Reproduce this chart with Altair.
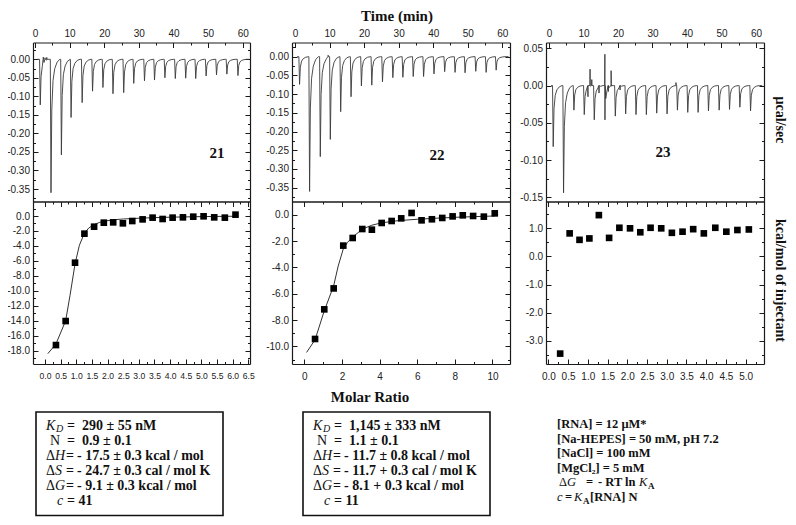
import altair as alt
import pandas as pd

W, H, M = 780, 509, 8
INK = "#1a1a1a"
SANS = "Liberation Sans"
SERIF = "Liberation Serif"
MINUS_FIX = "replace(datum.label, '\u2212', '-')"

# ---------------- raw thermograms: injection time (min) and peak heat rate (ucal/sec) -------------
inj_time_21 = [1.4, 4.5, 7.5, 10.3, 13.5, 16.5, 19.5, 22.4, 25.5, 28.4, 31.5, 34.4, 37.4, 40.4,
               43.4, 46.3, 49.3, 52.3, 55.3, 58.5]
inj_peak_21 = [-0.123, -0.360, -0.258, -0.157, -0.117, -0.086, -0.076, -0.093, -0.090, -0.065,
               -0.058, -0.056, -0.050, -0.052, -0.051, -0.052, -0.045, -0.042, -0.040, -0.044]
noise_time_21 = [2.4, 2.9, 3.4]
noise_val_21 = [0.006, 0.004, 0.005]

inj_time_22 = [1.2, 4.1, 7.2, 10.1, 13.1, 16.1, 19.1, 22.1, 25.2, 28.2, 31.1, 34.1, 37.1, 40.1,
               43.2, 46.2, 49.1, 52.2, 55.2, 58.1]
inj_peak_22 = [-0.074, -0.360, -0.267, -0.221, -0.147, -0.107, -0.078, -0.076, -0.067, -0.056,
               -0.055, -0.053, -0.053, -0.046, -0.040, -0.042, -0.043, -0.039, -0.042, -0.036]
noise_time_22 = [9.6]
noise_val_22 = [0.004]

inj_time_23 = [1.1, 4.1, 7.1, 10.1, 13.0, 16.1, 19.1, 22.1, 25.1, 28.1, 31.1, 34.1, 37.1, 40.1,
               43.1, 46.1, 49.2, 52.2, 55.2, 58.3]
inj_peak_23 = [-0.082, -0.144, -0.033, -0.039, -0.046, -0.046, -0.041, -0.038, -0.039, -0.039,
               -0.037, -0.038, -0.033, -0.036, -0.036, -0.034, -0.033, -0.032, -0.029, -0.034]
noise_time_23 = [11.3, 11.9, 12.4, 14.5, 16.2, 17.2, 18.0, 20.6, 36.8]
noise_val_23 = [-0.015, 0.022, 0.008, -0.010, 0.042, -0.008, 0.020, -0.006, 0.004]

# typical injection peak shape: (minutes after injection, fraction of peak)
PEAK_DT = [-0.08, 0.12, 0.35, 0.7, 1.2, 1.9, 2.7]
PEAK_FRAC = [0.0, 1.0, 0.38, 0.16, 0.07, 0.02, 0.0]

# ---------------- integrated heats (kcal/mol of injectant) vs molar ratio -------------
ratio_21 = [0.35, 0.66, 0.96, 1.26, 1.57, 1.88, 2.18, 2.49, 2.79, 3.12, 3.44, 3.76, 4.08, 4.41,
            4.74, 5.07, 5.41, 5.75, 6.09]
heat_21 = [-17.25, -14.04, -6.24, -2.36, -1.43, -0.89, -0.85, -0.98, -0.67, -0.45, -0.22, -0.40,
           -0.22, -0.18, -0.09, -0.04, -0.18, -0.22, 0.18]
fit_ratio_21 = [0.09, 0.35, 0.66, 0.80, 0.96, 1.10, 1.26, 1.40, 1.57, 1.75, 1.88, 2.20, 2.50,
                3.00, 3.50, 4.00, 5.00, 6.10]
fit_heat_21 = [-18.4, -17.1, -14.0, -10.6, -6.4, -3.9, -2.3, -1.6, -1.15, -0.85, -0.70, -0.50,
               -0.40, -0.30, -0.22, -0.16, -0.08, -0.03]

ratio_22 = [0.57, 1.06, 1.56, 2.07, 2.57, 3.08, 3.59, 4.11, 4.64, 5.15, 5.70, 6.23, 6.78, 7.33,
            7.88, 8.42, 8.97, 9.54, 10.12]
heat_22 = [-9.44, -7.19, -5.60, -2.35, -1.77, -1.09, -1.14, -0.63, -0.48, -0.28, 0.13, -0.43,
           -0.35, -0.25, -0.13, -0.05, -0.10, -0.15, 0.10]
fit_ratio_22 = [0.12, 0.57, 1.06, 1.56, 1.80, 2.07, 2.30, 2.57, 3.08, 3.59, 4.11, 5.00, 6.00,
                7.00, 8.00, 9.00, 10.12]
fit_heat_22 = [-10.46, -9.5, -7.3, -5.4, -3.9, -2.6, -2.1, -1.7, -1.1, -0.8, -0.62, -0.45, -0.35,
               -0.27, -0.20, -0.15, -0.10]

ratio_23 = [0.30, 0.54, 0.79, 1.04, 1.28, 1.54, 1.80, 2.07, 2.33, 2.59, 2.86, 3.13, 3.40, 3.67,
            3.94, 4.23, 4.51, 4.79, 5.08]
heat_23 = [-3.46, 0.82, 0.59, 0.64, 1.47, 0.66, 1.02, 1.00, 0.86, 1.02, 1.00, 0.84, 0.88, 0.97,
           0.82, 1.02, 0.88, 0.94, 0.96]

# ---------------- tick values -------------
time_major = [0, 10, 20, 30, 40, 50, 60]
time_minor = [5, 15, 25, 35, 45, 55]
rate_major = [-0.35, -0.30, -0.25, -0.20, -0.15, -0.10, -0.05, 0.00]
rate_minor = [-0.375, -0.325, -0.275, -0.225, -0.175, -0.125, -0.075, -0.025, 0.025]
rate23_major = [-0.15, -0.10, -0.05, 0.00, 0.05]
rate23_minor = [-0.125, -0.075, -0.025, 0.025]
heat21_major = [-18, -16, -14, -12, -10, -8, -6, -4, -2, 0]
heat21_minor = [-19, -17, -15, -13, -11, -9, -7, -5, -3, -1, 1]
heat22_major = [-10, -8, -6, -4, -2, 0]
heat22_minor = [-11, -9, -7, -5, -3, -1]
heat23_major = [-3, -2, -1, 0, 1]
heat23_minor = [-3.5, -2.5, -1.5, -0.5, 0.5, 1.5]
ratio21_major = [0, 0.5, 1, 1.5, 2, 2.5, 3, 3.5, 4, 4.5, 5, 5.5, 6, 6.5]
ratio21_minor = [0.25, 0.75, 1.25, 1.75, 2.25, 2.75, 3.25, 3.75, 4.25, 4.75, 5.25, 5.75, 6.25]
ratio22_major = [0, 2, 4, 6, 8, 10]
ratio22_minor = [1, 3, 5, 7, 9]
ratio23_major = [0, 0.5, 1, 1.5, 2, 2.5, 3, 3.5, 4, 4.5, 5]
ratio23_minor = [0.25, 0.75, 1.25, 1.75, 2.25, 2.75, 3.25, 3.75, 4.25, 4.75, 5.25]

# ---------------- layout (page pixels) -------------
PANEL_X = {21: (33, 250), 22: (292, 510), 23: (546, 764)}
UPPER_Y = (201.5, 42.5)   # bottom, top
LOWER_Y = (364, 201.5)


def xr(k):
    return [PANEL_X[k][0] - M, PANEL_X[k][1] - M]


def yr(p):
    return [p[0] - M, p[1] - M]


def trace_df(times, peaks, ntimes, nvals):
    pts = [(0.6, 0.0), (61.8, 0.0)]
    for t, p in zip(times, peaks):
        for dt, f in zip(PEAK_DT, PEAK_FRAC):
            pts.append((round(t + dt, 3), p * f))
    for t, v in zip(ntimes, nvals):
        pts += [(round(t - 0.07, 3), 0.0), (t, v), (round(t + 0.07, 3), 0.0)]
    pts.sort()
    return pd.DataFrame(pts, columns=["x", "y"])


def _axis(orient, off, values, tick, labels, fmt, pad, domain, lsize):
    d = dict(orient=orient, offset=off, grid=False, title=None, domain=domain,
             domainColor=INK, domainWidth=1.2, tickColor=INK, tickWidth=1)
    if values is not None:
        d["values"] = values
    if labels:
        d.update(labels=True, ticks=False, tickSize=0, labelPadding=pad, format=fmt,
                 labelFont=SANS, labelFontSize=lsize, labelColor="#222", labelFlush=False,
                 labelOverlap=False, labelExpr=MINUS_FIX)
    else:
        d["labels"] = False
        if values is None:
            d["ticks"] = False
        else:
            d.update(ticks=True, tickSize=tick)
    return alt.Axis(**d)


def xaxis(orient, ypos, values=None, tick=0, labels=False, fmt=None, pad=4, domain=False,
          lsize=10):
    off = -ypos if orient == "top" else ypos - H
    return _axis(orient, off, values, tick, labels, fmt, pad, domain, lsize)


def yaxis(orient, xpos, values=None, tick=0, labels=False, fmt=None, pad=3.5, domain=False,
          lsize=10):
    off = -xpos if orient == "left" else xpos - W
    return _axis(orient, off, values, tick, labels, fmt, pad, domain, lsize)


def panel(df_marks, xdom, xrange_, ydom, yrange_, xmaj, xmin, ymaj, ymin, xfmt, yfmt, upper,
          lines=(), squares=None, xlsize=10):
    def xs():
        return alt.Scale(domain=xdom, range=xrange_, nice=False, zero=False)

    def ys():
        return alt.Scale(domain=ydom, range=yrange_, nice=False, zero=False)

    x0, x1 = xrange_
    yb, yt = yrange_
    out = []

    def lay(xa, ya):
        return alt.Chart(df_marks).mark_point(opacity=0).encode(
            x=alt.X("x:Q", scale=xs(), axis=xa),
            y=alt.Y("y:Q", scale=ys(), axis=ya),
        )

    if upper:
        xl = xaxis("top", yt, xmaj, labels=True, fmt=xfmt, pad=4, lsize=xlsize)
    else:
        xl = xaxis("bottom", yb, xmaj, labels=True, fmt=xfmt, pad=7, lsize=xlsize)
    out.append(lay(xl, yaxis("left", x0, ymaj, labels=True, fmt=yfmt)))
    out.append(lay(xaxis("bottom", yt, xmaj, tick=5, domain=True),
                   yaxis("right", x0, ymaj, tick=5, domain=True)))
    out.append(lay(xaxis("top", yb, None if upper else xmaj, tick=5, domain=True),
                   yaxis("left", x1, ymaj, tick=5, domain=True)))
    out.append(lay(xaxis("bottom", yt, xmin, tick=2.5),
                   yaxis("right", x0, ymin, tick=2.5)))
    out.append(lay(None if upper else xaxis("top", yb, xmin, tick=2.5),
                   yaxis("left", x1, ymin, tick=2.5)))

    for ldf, color, width in lines:
        out.append(alt.Chart(ldf).mark_line(color=color, strokeWidth=width).encode(
            x=alt.X("x:Q", scale=xs(), axis=None),
            y=alt.Y("y:Q", scale=ys(), axis=None),
        ))
    if squares is not None:
        out.append(alt.Chart(squares).mark_square(size=44, color="black", opacity=1).encode(
            x=alt.X("x:Q", scale=xs(), axis=None),
            y=alt.Y("y:Q", scale=ys(), axis=None),
        ))
    return out


layers = []

# ---- upper panels (thermograms)
for k, tt, pp, nt, nv, ydom, ymaj, ymin, xdom in [
    (21, inj_time_21, inj_peak_21, noise_time_21, noise_val_21, [-0.3837, 0.0453],
     rate_major, rate_minor, [-0.578, 62.1]),
    (22, inj_time_22, inj_peak_22, noise_time_22, noise_val_22, [-0.3869, 0.0379],
     rate_major, rate_minor, [-0.868, 62.23]),
    (23, inj_time_23, inj_peak_23, noise_time_23, noise_val_23, [-0.1556, 0.0578],
     rate23_major, rate23_minor, [-0.87, 62.32]),
]:
    tdf = trace_df(tt, pp, nt, nv)
    layers += panel(tdf, xdom, xr(k), ydom, yr(UPPER_Y), time_major, time_minor, ymaj, ymin,
                    "d", ".2f", True, lines=[(tdf, "#3a3a3a", 0.9)])

# ---- lower panels (binding isotherms)
sq21 = pd.DataFrame({"x": ratio_21, "y": heat_21})
fit21 = pd.DataFrame({"x": fit_ratio_21, "y": fit_heat_21})
layers += panel(sq21, [-0.384, 6.554], xr(21), [-19.78, 1.938], yr(LOWER_Y), ratio21_major,
                ratio21_minor, heat21_major, heat21_minor, ".1f", ".1f", False,
                lines=[(fit21, "#333333", 1.0)], squares=sq21, xlsize=8.6)

sq22 = pd.DataFrame({"x": ratio_22, "y": heat_22})
fit22 = pd.DataFrame({"x": fit_ratio_22, "y": fit_heat_22})
layers += panel(sq22, [-0.655, 10.93], xr(22), [-11.34, 1.0], yr(LOWER_Y), ratio22_major,
                ratio22_minor, heat22_major, heat22_minor, "d", ".1f", False,
                lines=[(fit22, "#333333", 1.0)], squares=sq22)

sq23 = pd.DataFrame({"x": ratio_23, "y": heat_23})
layers += panel(sq23, [-0.059, 5.464], xr(23), [-3.83, 1.955], yr(LOWER_Y), ratio23_major,
                ratio23_minor, heat23_major, heat23_minor, ".1f", ".1f", False,
                squares=sq23)


# ---------------- text annotations -------------
def text_layer(rows, size, weight="bold", style="normal", font=SERIF, angle=0, align="left"):
    df = pd.DataFrame(rows, columns=["text", "px", "py"])
    df["x"] = df["px"] - M
    df["y"] = df["py"] - M
    return alt.Chart(df).mark_text(
        align=align, baseline="middle", font=font, fontSize=size, fontWeight=weight,
        fontStyle=style, angle=angle, color="#111"
    ).encode(
        x=alt.X("x:Q", scale=None, axis=None),
        y=alt.Y("y:Q", scale=None, axis=None),
        text="text:N",
    )


layers.append(text_layer([("Time (min)", 397, 16), ("Molar Ratio", 370, 397),
                          ("21", 217, 153), ("22", 437, 155), ("23", 663, 152)],
                         15, align="center"))
layers.append(text_layer([("\u03bccal/sec", 779.5, 120), ("kcal/mol of injectant", 779.5, 280.5)],
                         14, angle=90, align="center"))

# result boxes
box_rows = [426, 441, 456, 471, 486, 501]
box_values = [
    ("290 \u00b1 55 nM", "0.9 \u00b1 0.1", "- 17.5 \u00b1 0.3 kcal / mol",
     "- 24.7 \u00b1 0.3 cal / mol K", "- 9.1 \u00b1 0.3 kcal / mol", "= 41"),
    ("1,145 \u00b1 333 nM", "1.1 \u00b1 0.1", "- 11.7 \u00b1 0.8 kcal / mol",
     "- 11.7 + 0.3 cal / mol K", "- 8.1 + 0.3 kcal / mol", "= 11"),
]
box_left = [36, 303]
box_right = [223, 490]

bold_rows, ital_rows, reg_rows, sub_rows = [], [], [], []
for bx, vals in zip(box_left, box_values):
    dx = bx - 36
    y1, y2, y3, y4, y5, y6 = box_rows
    ital_rows += [("K", 46 + dx, y1), ("H", 55 + dx, y3), ("S", 55 + dx, y4),
                  ("G", 55 + dx, y5), ("c", 57 + dx, y6)]
    sub_rows += [("D", 56 + dx, y1 + 3)]
    reg_rows += [("N", 50 + dx, y2), ("\u0394", 46 + dx, y3), ("\u0394", 46 + dx, y4),
                 ("\u0394", 46 + dx, y5)]
    bold_rows += [("=", 67 + dx, y1), (vals[0], 82 + dx, y1),
                  ("=", 67 + dx, y2), (vals[1], 82 + dx, y2),
                  ("=", 66 + dx, y3), (vals[2], 77 + dx, y3),
                  ("=", 66 + dx, y4), (vals[3], 77 + dx, y4),
                  ("=", 66 + dx, y5), (vals[4], 77 + dx, y5),
                  (vals[5], 67 + dx, y6)]

layers.append(text_layer(bold_rows, 14))
layers.append(text_layer(ital_rows, 14, weight="normal", style="italic"))
layers.append(text_layer(reg_rows, 14, weight="normal"))
layers.append(text_layer(sub_rows, 10, weight="normal", style="italic"))

# conditions block
cr = [424, 438.5, 453, 467.5, 482, 496.5]
layers.append(text_layer([
    ("[RNA] = 12 \u03bcM*", 557, cr[0]),
    ("[Na-HEPES] = 50 mM, pH 7.2", 557, cr[1]),
    ("[NaCl] = 100 mM", 557, cr[2]),
    ("[MgCl\u2082] = 5 mM", 557, cr[3]),
    ("=", 586, cr[4]), ("- RT ln", 598, cr[4]),
    ("=", 565, cr[5]), ("[RNA] N", 590, cr[5]),
], 12.5))
layers.append(text_layer([("\u0394", 559, cr[4])], 12.5, weight="normal"))
layers.append(text_layer([("G", 567, cr[4]), ("K", 639, cr[4]), ("c", 557, cr[5]),
                          ("K", 574, cr[5])], 12.5, weight="normal", style="italic"))
layers.append(text_layer([("A", 648, cr[4] + 4), ("A", 583, cr[5] + 4)], 9))

boxes = pd.DataFrame({"x": [b - M for b in box_left], "x2": [b - M for b in box_right],
                      "y": [412 - M, 412 - M], "y2": [515.5 - M, 515.5 - M]})
layers.append(alt.Chart(boxes).mark_rect(fill="white", fillOpacity=0, stroke="#111",
                                         strokeWidth=1.6).encode(
    x=alt.X("x:Q", scale=None, axis=None), x2="x2:Q",
    y=alt.Y("y:Q", scale=None, axis=None), y2="y2:Q",
))

chart = alt.layer(*layers).resolve_scale(x="independent", y="independent").properties(
    width=W, height=H, autosize=alt.AutoSizeParams(type="none"), padding=0,
    background="white",
).configure_view(stroke=None)

chart.save("out.html", embed_options={"renderer": "svg", "actions": False})
